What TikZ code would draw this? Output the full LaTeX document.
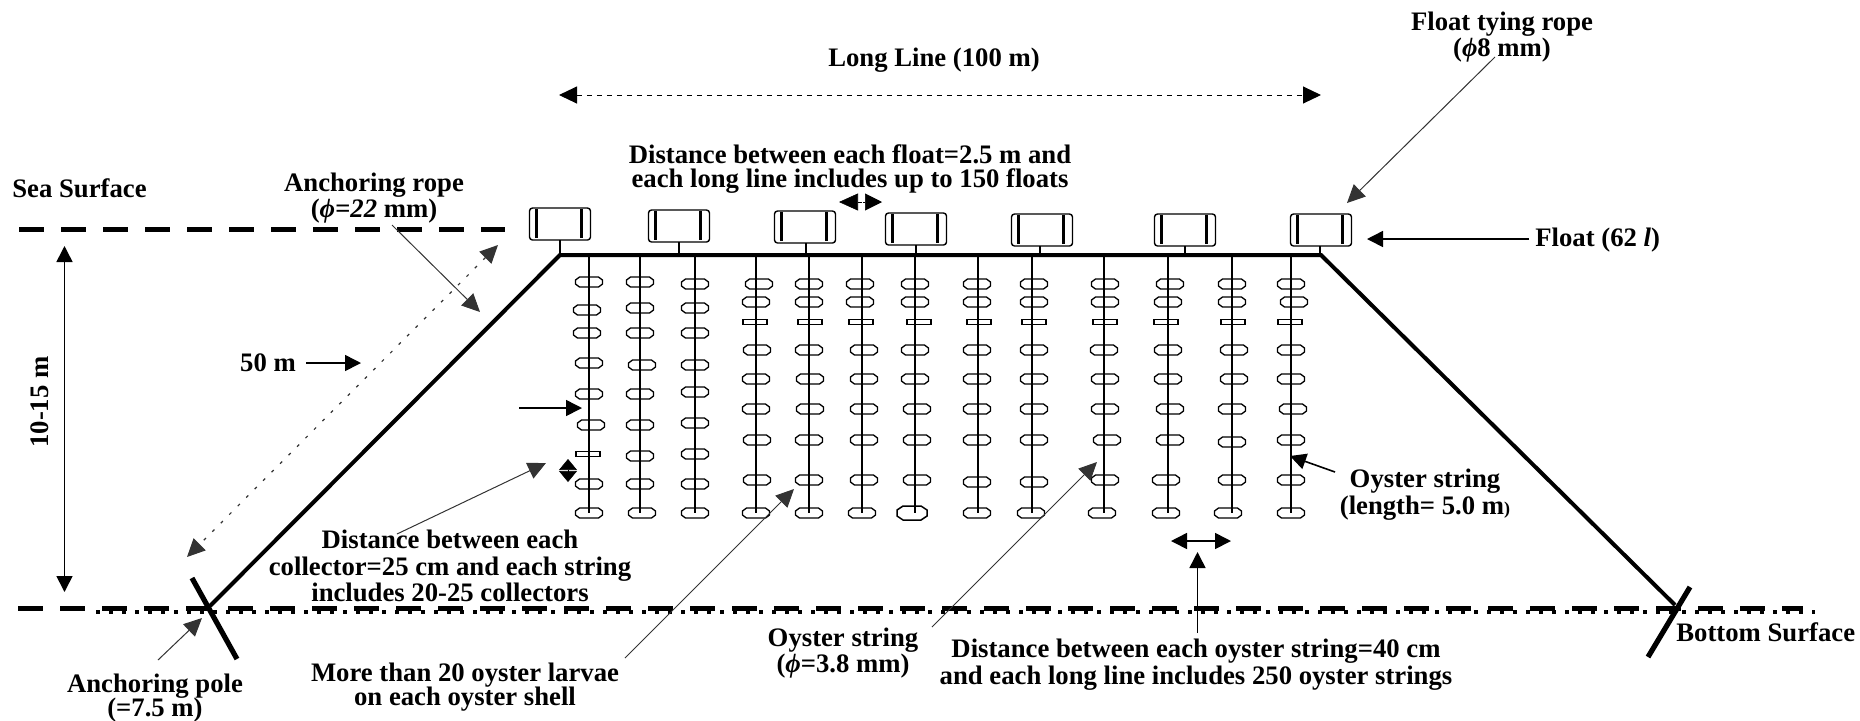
\documentclass[tikz,border=0pt]{standalone}
\usepackage{fontspec}
\setmainfont{Liberation Serif}
\usetikzlibrary{
  arrows.meta,
  positioning, calc
}
\tikzset{
  lbl/.style={align=center,font=\bfseries\fontsize{13.35}{13.35}\selectfont,inner sep=0pt},
  floatbox/.style={rectangle,rounded corners=1.5pt,draw=black,line width=0.7pt,
    minimum width=30.5pt,minimum height=16pt,inner sep=0pt},
  collector/.pic={
    \draw[line width=0.65pt] (-13.5,-2)--(-9.5,-5)--(9.5,-5)--(13.5,-2)--(13.5,2)--(9.5,5)--(-9.5,5)--(-13.5,2)--cycle;
  },
  bigcollector/.pic={
    \draw[line width=0.75pt] (-15,-3)--(-9,-7)--(9,-7)--(15,-3)--(15,3)--(9,7)--(-9,7)--(-15,3)--cycle;
  },
  thincoll/.style={rectangle,draw=black,line width=0.75pt,inner sep=0pt,
    minimum width=12pt,minimum height=2.6pt},
  rope/.style={line width=2pt,color=black},
  oysterline/.style={line width=1pt,color=black},
  leader/.style={-{Triangle[length=9pt,width=8.5pt]},line width=0.5pt,color=black!80},
  arrow/.style={-{Triangle[length=8pt,width=8pt]},line width=0.8pt,color=black},
  dimdash/.style={{Triangle[length=9pt,width=8.5pt]}-{Triangle[length=9pt,width=8.5pt]},
    line width=0.5pt,dash pattern=on 2.5pt off 2.5pt,color=black},
  dimdot/.style={{Triangle[length=9pt,width=8.5pt]}-{Triangle[length=9pt,width=8.5pt]},
    line width=0.6pt,dash pattern=on 1.5pt off 4.5pt,color=black!80},
  surface/.style={line width=2.5pt,dash pattern=on 12.3pt off 8.7pt,color=black},
  bottomdots/.style={line width=1.8pt,dash pattern=on 1.8pt off 4.7pt,color=black}
}
\begin{document}
\begin{tikzpicture}[x=0.5pt,y=-0.5pt]
  \useasboundingbox (0,0) rectangle (1860,720);
  % surfaces
  \coordinate (seaL) at (19,229);
  \coordinate (seaR) at (505,229);
  \coordinate (botL) at (18,608);
  \coordinate (botR) at (1803,608);
  \draw[surface] (seaL)--(seaR);
  \draw[surface] (botL)--(botR);
  \draw[bottomdots] (96,612)--(1815,612);
  % long line and anchoring ropes
  \coordinate (lineL) at (560,255);
  \coordinate (lineR) at (1321,255);
  \coordinate (poleL) at (210,606);
  \coordinate (poleR) at (1675,605);
  \draw[rope] (poleL)--(lineL)--(lineR)--(poleR);
  \draw[line width=2.6pt] (192,578)--(237,659);
  \draw[line width=2.6pt] (1690,587)--(1648,657);
  % floats
  \foreach \n/\fx/\fy/\sx in {1/560/224/560,2/679/226/679,3/805/227/806,4/916/229/916,
    5/1042/230/1040,6/1185/230/1185,7/1321/230/1320} {
    \node[floatbox] (float\n) at (\fx,\fy) {};
    \draw[line width=1.4pt] ($(float\n.north west)+(8,2)$)--($(float\n.south west)+(8,-3)$);
    \draw[line width=1.4pt] ($(float\n.north east)+(-10,2)$)--($(float\n.south east)+(-10,-3)$);
    \draw[line width=1.2pt] (\sx,\fy+16)--(\sx,255);
  }
  % oyster strings with collectors
  \foreach \sx/\cells in {
    589/{589/282,587/310,587/333,589/363,589/394,591/425,589/484,589/513},
    640/{640/282,640/308,640/333,642/365,640/394,640/425,640/456,640/484,642/513},
    695/{695/284,695/308,695/333,695/365,695/392,695/423,695/454,695/484,695/513},
    756/{759/284,756/302,757/350,756/379,756/409,757/440,757/480,756/513},
    809/{809/284,809/302,809/350,810/379,810/409,809/440,809/480,809/513},
    862/{860/284,860/302,864/350,864/379,864/409,864/440,864/480,862/513},
    915/{915/284,915/302,915/350,915/379,917/409,917/440,917/480},
    978/{977/284,977/302,977/350,977/379,977/409,977/440,977/482,977/513},
    1032/{1034/284,1034/302,1034/350,1034/379,1034/409,1034/440,1034/482,1031/513},
    1104/{1105/284,1105/302,1104/350,1105/379,1105/409,1107/440,1105/480,1102/513},
    1168/{1170/284,1168/302,1168/350,1168/379,1170/409,1170/440,1166/480,1166/513},
    1232/{1232/284,1232/302,1234/350,1234/379,1232/409,1232/442,1232/480,1228/513},
    1291/{1291/284,1294/302,1291/350,1291/379,1293/409,1291/440,1291/480,1291/513}} {
    \draw[oysterline] (\sx,255)--(\sx,513);
    \foreach \cx/\cy in \cells
      \pic at (\cx,\cy) {collector};
  }
  \foreach \cx/\cy in {588/454,755/322,810/322,861/322,919/322,979/322,1034/322,
    1105/322,1166/322,1233/322,1290/322}
    \node[thincoll] (t\cx) at (\cx,\cy) {};
  \pic at (912,513) {bigcollector};
  % labels
  \node[lbl] (longlbl) at (934,60) {Long Line (100 m)};
  \node[lbl] (floatdist) at (850,169) {Distance between each float=2.5 m and\\[-1pt] each long line includes up to 150 floats};
  \node[lbl] (tying) at (1502,37) {Float tying rope\\({\itshape ϕ}8 mm)};
  \node[lbl,anchor=west] (floatlbl) at (1535,240) {Float (62 {\itshape l})};
  \node[lbl,anchor=west] (sealbl) at (12,188) {Sea Surface};
  \node[lbl] (ropelbl) at (374,198) {Anchoring rope\\({\itshape ϕ=22} mm)};
  \node[lbl,rotate=90] (depthlbl) at (40,402) {10-15 m};
  \node[lbl] (fiftylbl) at (268,363) {50 m};
  \node[lbl] (colldist) at (450,566) {Distance between each\\collector=25 cm and each string\\includes 20-25 collectors};
  \node[lbl] (polelbl) at (155,698) {Anchoring pole\\[-1.5pt](=7.5 m)};
  \node[lbl] (larvae) at (465,687) {More than 20 oyster larvae\\[-1.5pt]on each oyster shell};
  \node[lbl] (dialbl) at (843,653) {Oyster string\\({\itshape ϕ}=3.8 mm)};
  \node[lbl] (stringdist) at (1196,665) {Distance between each oyster string=40 cm\\and each long line includes 250 oyster strings};
  \node[lbl] (lenlbl) at (1425,495) {Oyster string\\(length= 5.0 m{\fontsize{9}{9}\selectfont)}};
  \node[lbl,anchor=west] (botlbl) at (1676,632) {Bottom Surface};
  % free ends of the connectors
  \coordinate (longL) at (559,95);
  \coordinate (longR) at (1321,95);
  \coordinate (tyingT) at (1495,57);
  \coordinate (tyingH) at (1347,203);
  \coordinate (floatT) at (1529,239);
  \coordinate (floatH) at (1367,239);
  \coordinate (ropeT) at (392,225);
  \coordinate (ropeH) at (480,312);
  \coordinate (fiftyU) at (498,245);
  \coordinate (fiftyD) at (187,557);
  \coordinate (fiftyT) at (306,363);
  \coordinate (fiftyH) at (361,363);
  \coordinate (depthU) at (64.5,246);
  \coordinate (depthD) at (64.5,592);
  \coordinate (inT) at (519,408);
  \coordinate (inH) at (582,408);
  \coordinate (collT) at (397,534);
  \coordinate (collH) at (546,463);
  \coordinate (poleT) at (158,660);
  \coordinate (poleH) at (202,618);
  \coordinate (larvT) at (625,658);
  \coordinate (larvH) at (794,489);
  \coordinate (diaT) at (932,627);
  \coordinate (diaH) at (1097,462);
  \coordinate (gapL) at (1171,541);
  \coordinate (gapR) at (1231,541);
  \coordinate (upT) at (1197.5,633);
  \coordinate (upH) at (1197.5,552);
  \coordinate (lenT) at (1335,472);
  \coordinate (lenH) at (1290,456);
  \coordinate (fgapM) at (862,202);
  \coordinate (fgapL) at (839,202);
  \coordinate (fgapN) at (863,202);
  \coordinate (fgapR) at (882,202);
  \coordinate (cgapU) at (568,459);
  \coordinate (cgapD) at (568,482);
  \coordinate (cgapM) at (568,470.5);
  % connectors
  \draw[dimdash] (longL)--(longR);
  \draw[dimdot] (fiftyU)--(fiftyD);
  \foreach \a/\b in {tyingT/tyingH,ropeT/ropeH,collT/collH,poleT/poleH,larvT/larvH,diaT/diaH}
    \draw[leader] (\a)--(\b);
  \foreach \a/\b in {floatT/floatH,fiftyT/fiftyH,inT/inH,upT/upH,lenT/lenH}
    \draw[arrow] (\a)--(\b);
  \draw[arrow,{Triangle[length=8pt,width=8pt]}-{Triangle[length=8pt,width=8pt]}] (depthU)--(depthD);
  \draw[arrow,{Triangle[length=8pt,width=8pt]}-{Triangle[length=8pt,width=8pt]}] (gapL)--(gapR);
  \draw[-{Triangle[length=9.5pt,width=8.5pt]},line width=0.3pt] (fgapM)--(fgapL);
  \draw[-{Triangle[length=8.5pt,width=8.5pt]},line width=0.3pt] (fgapN)--(fgapR);
  \draw[-{Triangle[length=5.5pt,width=9pt]},line width=0.3pt] (cgapM)--(cgapU);
  \draw[-{Triangle[length=5.5pt,width=9pt]},line width=0.3pt] (cgapM)--(cgapD);
\end{tikzpicture}
\end{document}
